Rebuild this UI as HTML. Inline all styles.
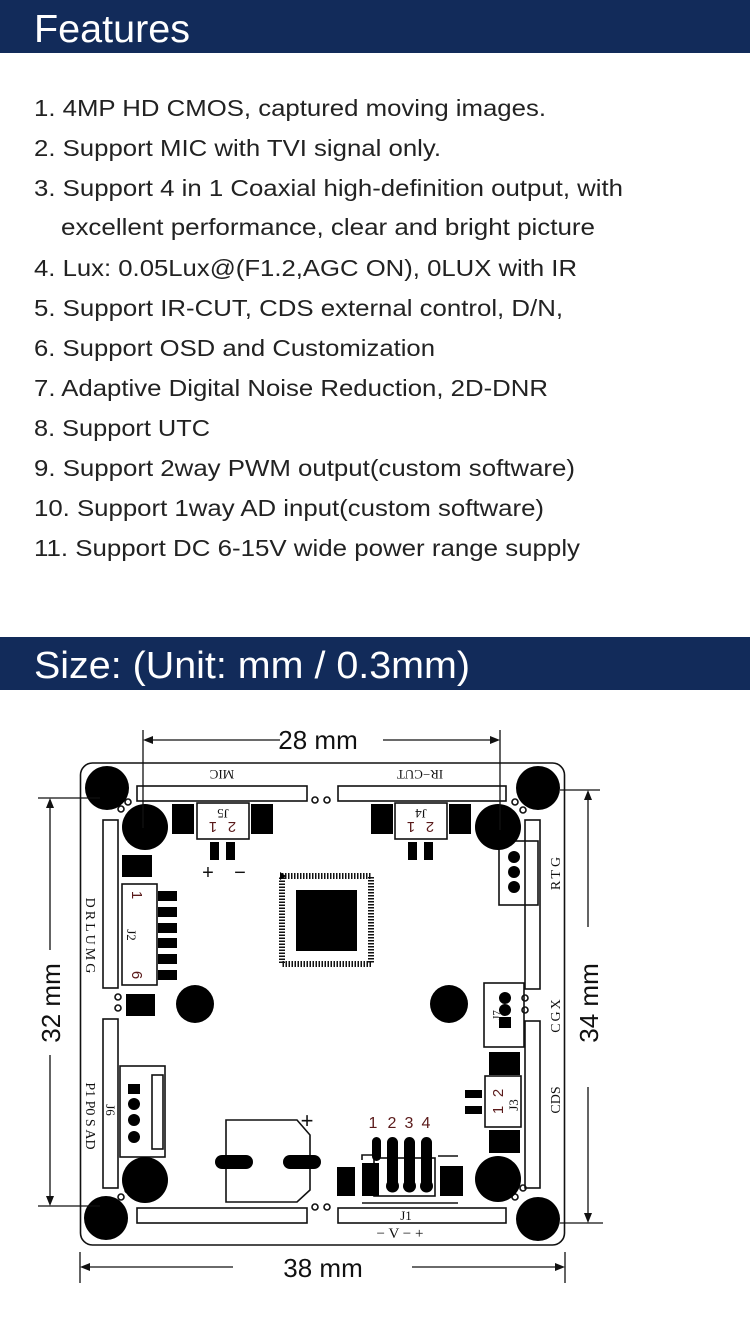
<!DOCTYPE html>
<html><head><meta charset="utf-8"><style>
html,body{margin:0;padding:0;background:#fff;}
svg{display:block;}
</style></head><body>
<svg width="750" height="1328" viewBox="0 0 750 1328" xmlns="http://www.w3.org/2000/svg" font-family="Liberation Sans, sans-serif">
<rect x="0" y="0" width="750" height="53" fill="#122b5a"/>
<text x="34" y="42" font-size="39" fill="#fff" textLength="156" lengthAdjust="spacingAndGlyphs">Features</text>
<g font-size="23" fill="#222">
<text x="34" y="116" textLength="512" lengthAdjust="spacingAndGlyphs">1. 4MP HD CMOS, captured moving images.</text>
<text x="34" y="156" textLength="407" lengthAdjust="spacingAndGlyphs">2. Support MIC with TVI signal only.</text>
<text x="34" y="196" textLength="589" lengthAdjust="spacingAndGlyphs">3. Support 4 in 1 Coaxial high-definition output, with</text>
<text x="61" y="235" textLength="534" lengthAdjust="spacingAndGlyphs">excellent performance, clear and bright picture</text>
<text x="34" y="276" textLength="543" lengthAdjust="spacingAndGlyphs">4. Lux: 0.05Lux@(F1.2,AGC ON), 0LUX with IR</text>
<text x="34" y="316" textLength="529" lengthAdjust="spacingAndGlyphs">5. Support IR-CUT, CDS external control, D/N,</text>
<text x="34" y="356" textLength="401" lengthAdjust="spacingAndGlyphs">6. Support OSD and Customization</text>
<text x="34" y="396" textLength="514" lengthAdjust="spacingAndGlyphs">7. Adaptive Digital Noise Reduction, 2D-DNR</text>
<text x="34" y="436" textLength="176" lengthAdjust="spacingAndGlyphs">8. Support UTC</text>
<text x="34" y="476" textLength="541" lengthAdjust="spacingAndGlyphs">9. Support 2way PWM output(custom software)</text>
<text x="34" y="516" textLength="510" lengthAdjust="spacingAndGlyphs">10. Support 1way AD input(custom software)</text>
<text x="34" y="556" textLength="546" lengthAdjust="spacingAndGlyphs">11. Support DC 6-15V wide power range supply</text>
</g>
<rect x="0" y="637" width="750" height="53" fill="#122b5a"/>
<text x="34" y="678" font-size="38" fill="#fff" textLength="436" lengthAdjust="spacingAndGlyphs">Size: (Unit: mm / 0.3mm)</text>

<g stroke="#111" stroke-width="1.6" fill="none">
<!-- board -->
<rect x="80.5" y="763" width="484" height="482" rx="12"/>
<!-- bars -->
<rect x="137" y="786" width="170" height="15"/>
<rect x="338" y="786" width="168" height="15"/>
<rect x="137" y="1208" width="170" height="15"/>
<rect x="338" y="1208" width="168" height="15"/>
<rect x="103" y="820" width="15" height="168"/>
<rect x="103" y="1019" width="15" height="169"/>
<rect x="525" y="820" width="15" height="169"/>
<rect x="525" y="1021" width="15" height="167"/>
<!-- small circles -->
<circle cx="315" cy="800" r="3"/><circle cx="327" cy="800" r="3"/>
<circle cx="315" cy="1207" r="3"/><circle cx="327" cy="1207" r="3"/>
<circle cx="121" cy="809" r="3"/><circle cx="128" cy="802" r="3"/>
<circle cx="515" cy="802" r="3"/><circle cx="523" cy="810" r="3"/>
<circle cx="121" cy="1197" r="3"/><circle cx="128" cy="1190" r="3"/>
<circle cx="515" cy="1197" r="3"/><circle cx="523" cy="1188" r="3"/>
<circle cx="118" cy="997" r="3"/><circle cx="118" cy="1008" r="3"/>
<circle cx="525" cy="998" r="3"/><circle cx="525" cy="1010" r="3"/>
<!-- J5 J4 -->
<rect x="197" y="803" width="52" height="36"/>
<rect x="395" y="803" width="52" height="36"/>
<!-- J2 -->
<rect x="122" y="884" width="35" height="101"/>
<!-- RTG -->
<rect x="499" y="841" width="39" height="64"/>
<!-- J7 -->
<rect x="484" y="983" width="40" height="64"/>
<!-- J3 -->
<rect x="485" y="1076" width="36" height="51"/>
<!-- J6 -->
<rect x="120" y="1066" width="45" height="91"/>
<rect x="152" y="1075" width="11" height="74"/>
<!-- capacitor -->
<polygon points="226,1120 297,1120 310,1135 310,1190 297,1202 226,1202"/>
<!-- connector outline -->
<polyline points="362,1160 362,1155 376,1155"/>
<rect x="374" y="1158" width="61" height="38"/>
<line x1="438" y1="1156" x2="458" y2="1156"/>
<line x1="362" y1="1203" x2="458" y2="1203"/>
<!-- chip pins -->
<rect x="282" y="876" width="89" height="88" stroke-width="6" stroke-dasharray="1.5 1.5"/>
</g>
<g fill="#000">
<circle cx="107" cy="788" r="22"/><circle cx="145" cy="827" r="23"/>
<circle cx="538" cy="788" r="22"/><circle cx="498" cy="827" r="23"/>
<circle cx="106" cy="1218" r="22"/><circle cx="145" cy="1180" r="23"/>
<circle cx="538" cy="1219" r="22"/><circle cx="498" cy="1179" r="23"/>
<circle cx="195" cy="1004" r="19"/><circle cx="449" cy="1004" r="19"/>
<rect x="172" y="804" width="22" height="30"/><rect x="251" y="804" width="22" height="30"/>
<rect x="210" y="842" width="9" height="18"/><rect x="226" y="842" width="9" height="18"/>
<rect x="371" y="804" width="22" height="30"/><rect x="449" y="804" width="22" height="30"/>
<rect x="408" y="842" width="9" height="18"/><rect x="424" y="842" width="9" height="18"/>
<rect x="122" y="855" width="30" height="22"/>
<rect x="158" y="891" width="19" height="10"/><rect x="158" y="907" width="19" height="10"/>
<rect x="158" y="923" width="19" height="10"/><rect x="158" y="938" width="19" height="10"/>
<rect x="158" y="954" width="19" height="10"/><rect x="158" y="970" width="19" height="10"/>
<rect x="126" y="994" width="29" height="22"/>
<rect x="296" y="890" width="61" height="61"/>
<polygon points="280,872 286,876 280,880"/>
<circle cx="514" cy="857" r="6"/><circle cx="514" cy="872" r="6"/><circle cx="514" cy="887" r="6"/>
<circle cx="505" cy="998" r="6"/><circle cx="505" cy="1010" r="6"/><rect x="499" y="1017" width="12" height="11"/>
<rect x="489" y="1052" width="31" height="23"/><rect x="489" y="1130" width="31" height="23"/>
<rect x="465" y="1090" width="17" height="8"/><rect x="465" y="1106" width="17" height="8"/>
<rect x="128" y="1084" width="12" height="10"/>
<circle cx="134" cy="1104" r="6"/><circle cx="134" cy="1120" r="6"/><circle cx="134" cy="1137" r="6"/>
<rect x="215" y="1155" width="38" height="14" rx="7"/><rect x="283" y="1155" width="38" height="14" rx="7"/>
<rect x="337" y="1167" width="18" height="29"/><rect x="362" y="1163" width="17" height="33"/>
<rect x="440" y="1166" width="23" height="30"/>
<rect x="372" y="1137" width="9" height="24" rx="4.5"/>
<rect x="387" y="1137" width="11" height="50" rx="5.5"/><circle cx="392.5" cy="1186" r="6.5"/>
<rect x="404" y="1137" width="11" height="50" rx="5.5"/><circle cx="409.5" cy="1186" r="6.5"/>
<rect x="421" y="1137" width="11" height="50" rx="5.5"/><circle cx="426.5" cy="1186" r="6.5"/>
</g>
<!-- board labels -->
<g font-family="Liberation Serif, serif" fill="#111" font-size="13">
<text transform="translate(222,770) rotate(180)" text-anchor="middle">MIC</text>
<text transform="translate(420,770) rotate(180)" text-anchor="middle">IR−CUT</text>
<text transform="translate(223,809) rotate(180)" text-anchor="middle">J5</text>
<text transform="translate(421,809) rotate(180)" text-anchor="middle">J4</text>
<text x="406" y="1220" text-anchor="middle">J1</text>
<text x="400" y="1238" text-anchor="middle" font-size="15">− V − +</text>
<text transform="translate(86,937) rotate(90)" text-anchor="middle" font-size="14" letter-spacing="3">DRLUMG</text>
<text transform="translate(86,1116) rotate(90)" text-anchor="middle" font-size="14">P1 P0 S AD</text>
<text transform="translate(127,935) rotate(90)" text-anchor="middle">J2</text>
<text transform="translate(106,1110) rotate(90)" text-anchor="middle">J6</text>
<text transform="translate(560,872) rotate(-90)" text-anchor="middle" font-size="14" letter-spacing="3">RTG</text>
<text transform="translate(560,1015) rotate(-90)" text-anchor="middle" font-size="14" letter-spacing="2">CGX</text>
<text transform="translate(560,1100) rotate(-90)" text-anchor="middle" font-size="14">CDS</text>
<text transform="translate(500,1015) rotate(-90)" text-anchor="middle" font-size="11">J7</text>
<text transform="translate(518,1105) rotate(-90)" text-anchor="middle">J3</text>
</g>
<g font-family="Liberation Sans, sans-serif" fill="#5a1a1a" font-size="15">
<text transform="translate(213,822) rotate(180)" text-anchor="middle">1</text>
<text transform="translate(232,822) rotate(180)" text-anchor="middle">2</text>
<text transform="translate(411,822) rotate(180)" text-anchor="middle">1</text>
<text transform="translate(430,822) rotate(180)" text-anchor="middle">2</text>
<text transform="translate(132,895) rotate(90)" text-anchor="middle">1</text>
<text transform="translate(132,975) rotate(90)" text-anchor="middle">6</text>
<text transform="translate(503,1110) rotate(-90)" text-anchor="middle">1</text>
<text transform="translate(503,1093) rotate(-90)" text-anchor="middle">2</text>
<text x="373" y="1128" text-anchor="middle" font-size="16">1</text>
<text x="392" y="1128" text-anchor="middle" font-size="16">2</text>
<text x="409" y="1128" text-anchor="middle" font-size="16">3</text>
<text x="426" y="1128" text-anchor="middle" font-size="16">4</text>
</g>
<g fill="#111" font-size="20">
<text x="208" y="879" text-anchor="middle">+</text>
<text x="240" y="879" text-anchor="middle">−</text>
<text x="307" y="1128" text-anchor="middle" font-size="22">+</text>
</g>
<!-- dimensions -->
<g stroke="#111" stroke-width="1.3" fill="none">
<line x1="143" y1="730" x2="143" y2="828"/>
<line x1="500" y1="730" x2="500" y2="830"/>
<line x1="150" y1="740" x2="280" y2="740"/>
<line x1="383" y1="740" x2="493" y2="740"/>
<line x1="38" y1="798" x2="100" y2="798"/>
<line x1="38" y1="1206" x2="100" y2="1206"/>
<line x1="50" y1="805" x2="50" y2="950"/>
<line x1="50" y1="1055" x2="50" y2="1199"/>
<line x1="560" y1="790" x2="600" y2="790"/>
<line x1="560" y1="1223" x2="603" y2="1223"/>
<line x1="588" y1="797" x2="588" y2="927"/>
<line x1="588" y1="1087" x2="588" y2="1216"/>
<line x1="80" y1="1252" x2="80" y2="1283"/>
<line x1="565" y1="1252" x2="565" y2="1283"/>
<line x1="87" y1="1267" x2="233" y2="1267"/>
<line x1="412" y1="1267" x2="558" y2="1267"/>
</g>
<g fill="#111">
<polygon points="143,740 153,736 153,744"/>
<polygon points="500,740 490,736 490,744"/>
<polygon points="50,798 46,808 54,808"/>
<polygon points="50,1206 46,1196 54,1196"/>
<polygon points="588,790 584,800 592,800"/>
<polygon points="588,1223 584,1213 592,1213"/>
<polygon points="80,1267 90,1263 90,1271"/>
<polygon points="565,1267 555,1263 555,1271"/>
</g>
<g fill="#111" font-size="26">
<text x="318" y="749" text-anchor="middle">28 mm</text>
<text x="323" y="1277" text-anchor="middle">38 mm</text>
<text transform="translate(60,1003) rotate(-90)" text-anchor="middle">32 mm</text>
<text transform="translate(598,1003) rotate(-90)" text-anchor="middle">34 mm</text>
</g>
</svg>
</body></html>
